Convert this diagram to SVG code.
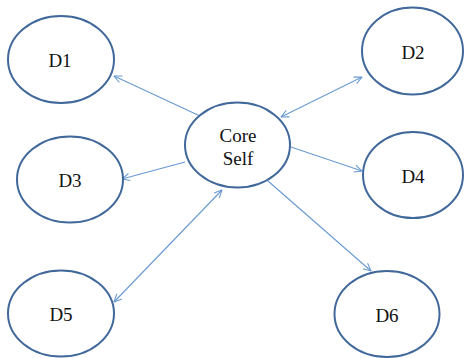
<svg xmlns="http://www.w3.org/2000/svg" width="464" height="358" viewBox="0 0 464 358">
  <style>
    .node ellipse { fill: #ffffff; stroke: #41689a; stroke-width: 2; }
    .node text { font-family: "Liberation Serif", "Times New Roman", serif; font-size: 19px; fill: #111111; text-anchor: middle; }
    .link { stroke: #6a9ad2; stroke-width: 1.1; fill: none; }
  </style>
  <defs>
    <marker id="arrow" viewBox="0 0 10 10" refX="9.5" refY="5" markerWidth="9" markerHeight="9" markerUnits="userSpaceOnUse" orient="auto-start-reverse">
      <path d="M1,1 L9.5,5 L1,9" fill="none" stroke="#6a9ad2" stroke-width="1.2"/>
    </marker>
  </defs>

  <g id="connectors">
    <line class="link" x1="200" y1="116" x2="114" y2="76" marker-end="url(#arrow)"/>
    <line class="link" x1="281" y1="117" x2="362" y2="77" marker-start="url(#arrow)" marker-end="url(#arrow)"/>
    <line class="link" x1="185" y1="162" x2="122" y2="179" marker-end="url(#arrow)"/>
    <line class="link" x1="291" y1="147" x2="362" y2="171" marker-end="url(#arrow)"/>
    <line class="link" x1="222" y1="190" x2="114" y2="302" marker-start="url(#arrow)" marker-end="url(#arrow)"/>
    <line class="link" x1="268" y1="181" x2="371" y2="271" marker-end="url(#arrow)"/>
  </g>

  <g id="core" class="node">
    <ellipse cx="237.5" cy="145" rx="52.5" ry="42.5"/>
    <text x="238" y="141.5">Core</text>
    <text x="238" y="165">Self</text>
  </g>
  <g id="d1" class="node">
    <ellipse cx="61" cy="59.5" rx="53" ry="43.5"/>
    <text x="60" y="67">D1</text>
  </g>
  <g id="d2" class="node">
    <ellipse cx="412.5" cy="51" rx="50.5" ry="43.5"/>
    <text x="413" y="58.5">D2</text>
  </g>
  <g id="d3" class="node">
    <ellipse cx="70" cy="179.5" rx="53" ry="43"/>
    <text x="70" y="187">D3</text>
  </g>
  <g id="d4" class="node">
    <ellipse cx="413" cy="175" rx="50" ry="43"/>
    <text x="413" y="182.5">D4</text>
  </g>
  <g id="d5" class="node">
    <ellipse cx="61" cy="313.5" rx="53" ry="43"/>
    <text x="61" y="321">D5</text>
  </g>
  <g id="d6" class="node">
    <ellipse cx="387" cy="314" rx="52.5" ry="43"/>
    <text x="387" y="321.5">D6</text>
  </g>
</svg>
